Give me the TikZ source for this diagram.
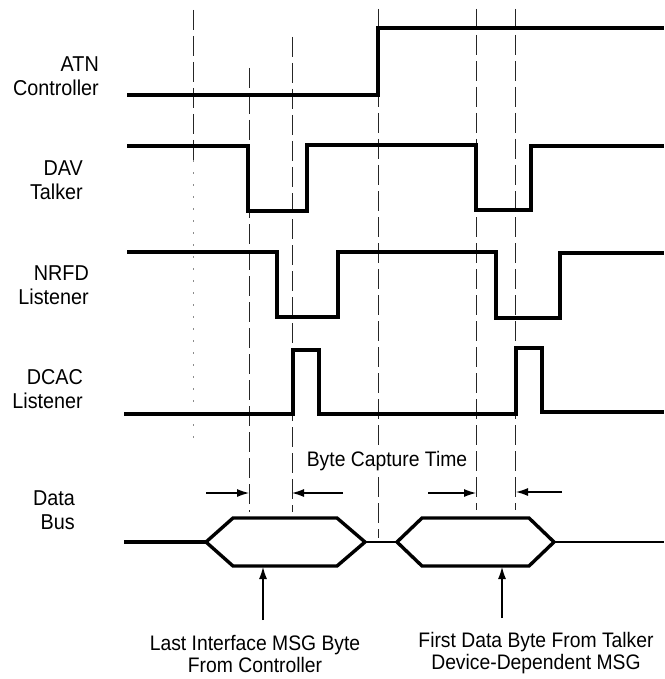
\documentclass[tikz,border=0pt]{standalone}
\usepackage{fontspec}
\setmainfont[FakeStretch=0.92]{Liberation Sans}
\usetikzlibrary{arrows.meta}
\begin{document}
\begin{tikzpicture}[x=1pt,y=-1pt,
  sig/.style={line width=3.4pt, line join=miter},
  bus/.style={line width=3.4pt, line join=miter},
  guide/.style={line width=0.9pt, black!85, dash pattern=on 20pt off 6pt},
  faint/.style={line width=0.8pt, black!45, dash pattern=on 2pt off 10pt},
  meas/.style={line width=1.1pt, -{Latex[length=12pt,width=8pt]}},
  lbl/.style={font=\fontsize{21.5}{24.5}\selectfont, align=right, anchor=east, inner sep=0pt},
  note/.style={font=\fontsize{21}{22.5}\selectfont, align=center, inner sep=0pt}]
\useasboundingbox (0,0) rectangle (664,679);
\fill[white] (0,0) rectangle (664,679);

% guide lines
\draw[guide] (193,10) -- (193,160);
\draw[faint] (193,160) -- (193,440);
\draw[guide] (249,68) -- (249,512);
\draw[guide] (292,37) -- (292,512);
\draw[guide] (378,9) -- (378,538);
\draw[guide] (476,9) -- (476,510);
\draw[guide] (515,9) -- (515,510);

% labels
\node[lbl] (atn)  at (99,76)  {ATN\\Controller};
\node[lbl] (dav)  at (83,180) {DAV\\Talker};
\node[lbl] (nrfd) at (89,285) {NRFD\\Listener};
\node[lbl] (dcac) at (83,389) {DCAC\\Listener};
\node[lbl] (data) at (75,510) {Data\\Bus};

% signals
\draw[sig] (127,95) -- (378,95) -- (378,28) -- (664,28);
\draw[sig] (127,146) -- (248,146) -- (248,211) -- (307,211) -- (307,145) -- (476,145) -- (476,210) -- (531,210) -- (531,146) -- (664,146);
\draw[sig] (127,252) -- (277,252) -- (277,317) -- (338,317) -- (338,252) -- (496,252) -- (496,318) -- (560,318) -- (560,253) -- (664,253);
\draw[sig] (124,414) -- (293,414) -- (293,350) -- (319,350) -- (319,414) -- (516,414) -- (516,348) -- (542,348) -- (542,412) -- (664,412);

% data bus
\draw[bus] (124,542) -- (206,542);
\draw[bus] (206,542) -- (233,518) -- (337,518) -- (365,542) -- (337,566) -- (233,566) -- cycle;
\draw[line width=2.8pt] (365,542) -- (397,542);
\draw[bus] (397,542) -- (422,518) -- (529,518) -- (554,542) -- (529,566) -- (422,566) -- cycle;
\draw[line width=2.6pt] (554,542) -- (664,542);

% capture time arrows
\coordinate (a1s) at (206,493); \coordinate (a1e) at (249,493);
\coordinate (a2s) at (343,493); \coordinate (a2e) at (292,493);
\coordinate (a3s) at (428,493); \coordinate (a3e) at (476,493);
\coordinate (a4s) at (562,492); \coordinate (a4e) at (516,492);
\draw[meas] (a1s) -- (a1e);
\draw[meas] (a2s) -- (a2e);
\draw[meas] (a3s) -- (a3e);
\draw[meas] (a4s) -- (a4e);
\node[font=\fontsize{21}{23}\selectfont, fill=white, inner sep=1pt] (bct) at (387,461) {Byte Capture Time};

% pointers
\node[note] (last)  at (255,654) {Last Interface MSG Byte\\From Controller};
\node[note] (first) at (536,653) {First Data Byte From Talker\\Device-Dependent MSG};
\coordinate (p1) at (263,567); \coordinate (p2) at (502,567);
\draw[meas] (263,620) -- (p1);
\draw[meas] (502,618) -- (p2);
\end{tikzpicture}
\end{document}
